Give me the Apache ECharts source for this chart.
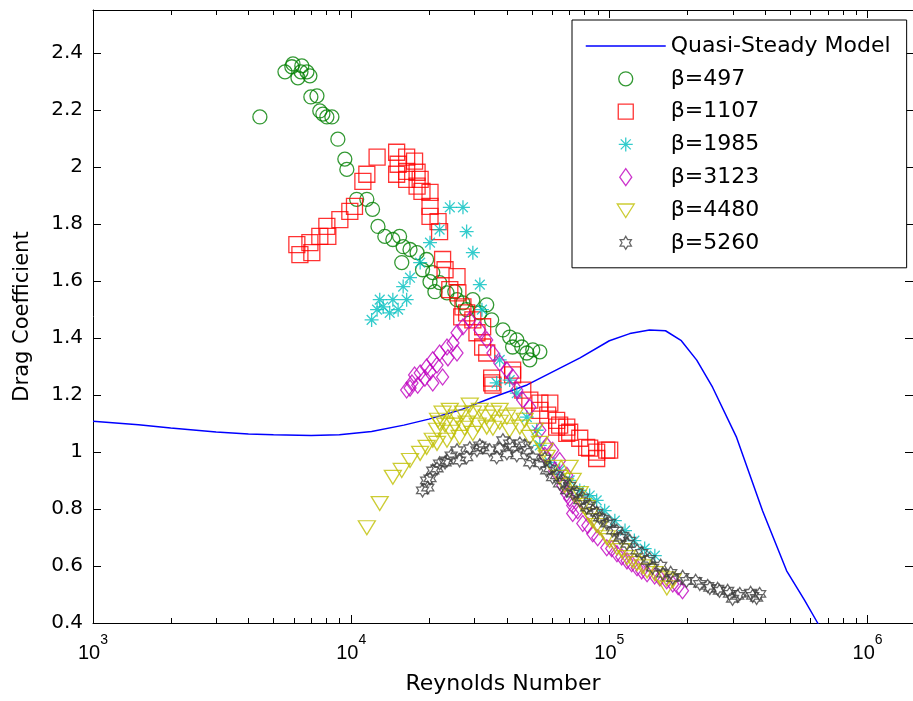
<!DOCTYPE html>
<html><head><meta charset="utf-8">
<script src="https://cdn.jsdelivr.net/npm/echarts@6/dist/echarts.min.js"></script>
<style>html,body{margin:0;padding:0;background:#fff}#c{width:913px;height:701px}</style>
</head><body><div id="c"></div>
<script>
// ---------- data ----------
const modelRe = [1000,1500,2000,3000,4000,5000,7000,9000,12000,16000,20000,27000,35000,48000,60000,77000,100000,120000,143000,165000,190000,218000,251000,311000,392000,486000,570000,641000,700000];
const modelCd = [1.108,1.095,1.084,1.070,1.063,1.060,1.058,1.060,1.072,1.094,1.115,1.150,1.190,1.235,1.280,1.330,1.390,1.415,1.428,1.425,1.390,1.322,1.227,1.051,0.794,0.583,0.480,0.400,0.340];

const beta497 = [[4430,2.175],[5540,2.333],[5890,2.351],[5950,2.361],[6440,2.354],[6740,2.333],[6220,2.312],[6920,2.319],[6390,2.333],[6980,2.245],[7370,2.249],[7560,2.196],[7770,2.185],[8050,2.175],[8420,2.175],[8880,2.097],[9450,2.027],[9620,1.991],[10500,1.886],[11500,1.886],[12100,1.851],[12700,1.791],[13500,1.756],[14500,1.745],[15400,1.756],[15900,1.720],[16900,1.710],[15700,1.664],[18000,1.699],[19600,1.675],[18900,1.639],[20700,1.629],[20200,1.597],[22000,1.594],[21100,1.562],[23500,1.558],[25200,1.562],[25700,1.534],[27100,1.523],[28000,1.499],[29600,1.534],[31500,1.488],[33500,1.516],[35000,1.463],[38700,1.428],[41100,1.403],[43800,1.393],[45800,1.368],[47900,1.347],[50500,1.358],[53800,1.351],[49200,1.323],[42200,1.368]];

const beta1107 = [[6160,1.727],[6330,1.692],[6920,1.734],[7040,1.699],[7560,1.756],[8050,1.791],[8120,1.756],[9040,1.815],[9880,1.844],[10300,1.861],[11100,1.949],[11500,1.974],[12600,2.034],[15000,2.051],[15200,2.009],[15000,1.974],[16400,2.034],[16400,1.984],[16400,1.956],[17600,2.020],[18000,1.981],[18000,1.932],[18500,1.956],[18800,1.914],[20200,1.910],[20200,1.861],[20200,1.826],[21700,1.808],[22000,1.773],[22600,1.675],[23100,1.639],[25700,1.615],[24100,1.569],[25900,1.558],[27100,1.509],[26800,1.474],[28000,1.488],[29600,1.463],[32300,1.439],[30700,1.418],[32300,1.368],[33500,1.347],[35000,1.259],[35000,1.242],[35400,1.234],[42200,1.287],[42200,1.270],[46200,1.217],[49200,1.182],[53800,1.171],[58800,1.171],[53800,1.146],[57700,1.129],[62500,1.111],[62500,1.087],[64200,1.094],[68400,1.065],[68400,1.087],[70200,1.069],[76800,1.048],[81700,1.016],[83900,1.013],[89300,0.999],[97700,1.006],[100300,1.006],[89300,0.977]];

const beta1985 = [[12000,1.463],[12600,1.499],[12900,1.534],[13300,1.509],[14100,1.488],[14500,1.534],[15200,1.499],[15900,1.580],[16400,1.534],[16900,1.611],[18500,1.664],[20200,1.734],[22000,1.780],[24100,1.858],[27100,1.858],[28000,1.773],[29600,1.699],[31500,1.587],[32100,1.499],[37600,1.323],[36600,1.242],[41100,1.252],[43800,1.206],[47900,1.122],[52300,1.076],[53800,1.023],[58800,0.963],[64200,0.935],[70200,0.900],[76800,0.865],[83900,0.847],[89300,0.830],[95900,0.794],[105000,0.759],[115000,0.724],[125000,0.689],[137000,0.661],[150000,0.636]];

const beta3123 = [[16400,1.217],[17200,1.242],[18500,1.277],[19600,1.298],[20700,1.323],[22000,1.347],[23500,1.368],[24800,1.382],[25700,1.347],[22600,1.263],[20700,1.242],[18100,1.234],[25700,1.418],[27100,1.439],[28800,1.463],[31500,1.428],[33500,1.393],[35400,1.347],[37600,1.312],[40100,1.287],[42200,1.263],[43800,1.217],[46200,1.182],[49200,1.157],[53800,1.076],[57200,1.023],[60300,1.006],[64200,0.970],[68400,0.918],[68400,0.854],[72100,0.812],[72100,0.784],[78900,0.749],[86200,0.713],[97700,0.664],[107000,0.643],[117000,0.618],[128000,0.594],[140000,0.573],[157000,0.558],[176000,0.537],[192000,0.513],
  [56200,0.988],[61400,0.935],[66000,0.882],[70200,0.837],[75400,0.794],[82500,0.742],[90100,0.699],[102100,0.661],[111600,0.632],[122000,0.608],[133400,0.583],[149800,0.565],[166700,0.548],[184700,0.527],[16900,1.224],[19300,1.259],[21500,1.305],[23700,1.330],[17600,1.270],[20200,1.280]];

const beta4480 = [[11500,0.734],[12900,0.819],[14500,0.911],[15700,0.935],[16900,0.970],[18500,0.995],[19600,1.016],[20700,1.041],[21500,1.076],[22000,1.101],[22600,1.136],[24100,1.146],[25700,1.122],[27100,1.136],[28000,1.101],[29600,1.136],[31500,1.146],[33500,1.122],[35400,1.136],[37600,1.146],[40100,1.122],[33500,1.087],[29600,1.065],[26300,1.051],[23500,1.041],[21500,1.030],[45000,1.087],[49200,1.051],[53800,1.030],[57200,0.981],[60300,0.946],[64200,0.911],[70200,0.946],[72100,0.900],[76800,0.854],[81700,0.805],[86200,0.759],[91700,0.734],[97700,0.699],[107000,0.664],[117000,0.629],[128000,0.608],[140000,0.583],[157000,0.558],[176000,0.548],[167000,0.523],[25200,1.094],[41100,1.076],
  [23100,1.094],[24400,1.069],[27500,1.083],[30900,1.094],[35400,1.083],[37600,1.104],[43000,1.129],[47000,1.111],[51400,1.076],[56200,1.006],[21700,1.111],[28800,1.164],[67200,0.882],[73400,0.847],[78900,0.812],[83900,0.777],[89300,0.742],[100300,0.689],[111600,0.654],[123100,0.618],[134600,0.597],[149800,0.573],[166700,0.555]];

const beta5260 = [[18900,0.865],[19600,0.900],[20700,0.935],[22000,0.960],[23500,0.970],[25700,1.006],[26300,0.970],[28000,0.981],[30700,1.006],[32300,1.016],[36600,0.981],[38700,1.041],[40100,0.995],[42200,1.016],[45000,1.030],[47900,1.006],[50500,0.981],[53800,0.960],[57200,0.935],[60300,0.911],[64200,0.889],[68400,0.865],[72100,0.854],[76800,0.830],[81700,0.805],[86200,0.794],[91700,0.770],[97700,0.749],[103000,0.724],[110000,0.699],[117000,0.678],[128000,0.654],[140000,0.618],[147000,0.594],[161000,0.573],[176000,0.558],[199000,0.548],[224000,0.537],[245000,0.523],[267000,0.513],[292000,0.502],[320000,0.502],[359000,0.495],[382000,0.502],[300000,0.485],[19800,0.875],
  [20200,0.907],[21500,0.942],[23100,0.963],[24400,0.988],[28800,1.013],[31500,1.023],[34400,1.006],[37600,1.013],[41100,1.030],[43800,0.988],[47000,1.023],[49200,0.963],[56200,0.977],[58800,0.942],[62500,0.918],[66000,0.900],[70200,0.882],[74800,0.858],[78900,0.840],[83900,0.812],[89300,0.787],[94200,0.766],[100300,0.752],[106800,0.724],[112600,0.706],[119900,0.689],[133400,0.646],[143200,0.625],[158000,0.601],[172800,0.576],[192300,0.562],[215900,0.548],[240300,0.530],[262700,0.520],[287200,0.513],[314000,0.495],[352500,0.506],[371800,0.488]];

const seriesNames = ['Quasi-Steady Model','β=497','β=1107','β=1985','β=3123','β=4480','β=5260'];
const minorTickValues = [2e3,3e3,4e3,5e3,6e3,7e3,8e3,9e3,2e4,3e4,4e4,5e4,6e4,7e4,8e4,9e4,2e5,3e5,4e5,5e5,6e5,7e5,8e5,9e5];
const X_MIN = 1000, X_MAX = 1.5e6, Y_MIN = 0.4, Y_MAX = 2.55, Y_STEP = 0.2;

// ---------- styling ----------
const FONT = 'DejaVu Sans';
function hexagram(r){
  const pts=[];
  for(let k=0;k<12;k++){
    const a=(-90+30*k)*Math.PI/180;
    const rr=(k%2===0)?r:r*0.5774;
    pts.push((rr*Math.cos(a)).toFixed(3)+','+(rr*Math.sin(a)).toFixed(3));
  }
  return 'M'+pts.join(' L')+' Z';
}
const BOX = 'M-40,-9 M40,9 '; // invisible bounds so legend icons keep their size
const symAsterisk = 'path://M0,-1 L0,1 M-1,0 L1,0 M-0.7,-0.7 L0.7,0.7 M-0.7,0.7 L0.7,-0.7';
const symTriDown = 'path://M-1,-0.8 L1,-0.8 L0,0.9 Z';
const symHex = 'path://' + hexagram(1);
const legendIcons = [
  'path://' + BOX + 'M-40,0 L40,0',
  'path://' + BOX + 'M7,0 A7,7 0 1,1 -7,0 A7,7 0 1,1 7,0 Z',
  'path://' + BOX + 'M-7.5,-7.5 L7.5,-7.5 L7.5,7.5 L-7.5,7.5 Z',
  'path://' + BOX + 'M0,-7 L0,7 M-7,0 L7,0 M-5,-5 L5,5 M-5,5 L5,-5',
  'path://' + BOX + 'M0,-8.5 L6,0 L0,8.5 L-6,0 Z',
  'path://' + BOX + 'M-8.5,-6 L8.5,-6 L0,7.5 Z',
  'path://' + BOX + hexagram(6.5)
];

function scatter(name, data, color, symbol, size){
  return {
    name, type:'scatter', data, symbol, symbolSize:size,
    itemStyle:{color:'rgba(0,0,0,0)', borderColor:color, borderWidth:1.3},
    emphasis:{disabled:true}, silent:true, z:3
  };
}

const chart = echarts.init(document.getElementById('c'), null, {renderer:'canvas'});
const axisLineStyle = {lineStyle:{color:'#000', width:1}};
const option = {
  animation:false,
  backgroundColor:'#fff',
  textStyle:{fontFamily:FONT},
  grid:{left:93, right:-4, top:10, bottom:78, containLabel:false},
  legend:{
    data:seriesNames.map((n,i)=> i===0
      ? {name:n, icon:legendIcons[i], itemStyle:{color:'rgba(0,0,0,0)', borderColor:'#0000ff', borderWidth:1.5}}
      : {name:n, icon:legendIcons[i]}),
    orient:'vertical', left:572, top:20,
    itemWidth:80, itemHeight:18, itemGap:10.8,
    padding:[15,16,14,13],
    backgroundColor:'#fff', borderColor:'#000', borderWidth:1, borderRadius:0,
    textStyle:{fontFamily:FONT, fontSize:22, color:'#000', lineHeight:22},
    itemStyle:{borderWidth:1.3},
    selectedMode:false
  },
  xAxis:[{
    type:'log', logBase:10, min:X_MIN, max:X_MAX, position:'bottom',
    name:'Reynolds Number', nameLocation:'middle', nameGap:50,
    nameTextStyle:{fontFamily:FONT, fontSize:22, color:'#000'},
    axisLine:axisLineStyle,
    axisTick:{inside:true, length:8, lineStyle:{color:'#000'}},
    axisLabel:{
      margin:10, showMaxLabel:false, color:'#000',
      formatter:function(v){ return '{b|10}{s|'+Math.round(Math.log10(v))+'}'; },
      rich:{
        b:{fontFamily:'Liberation Sans', fontSize:20, lineHeight:40, color:'#000'},
        s:{fontFamily:'Liberation Sans', fontSize:14, lineHeight:10, verticalAlign:'top', color:'#000'}
      }
    },
    splitLine:{show:false}
  },{
    type:'log', logBase:10, min:X_MIN, max:X_MAX, position:'top',
    axisLine:axisLineStyle,
    axisTick:{inside:true, length:8, lineStyle:{color:'#000'}},
    axisLabel:{show:false}, splitLine:{show:false}
  }],
  yAxis:[{
    type:'value', min:Y_MIN, max:Y_MAX, interval:Y_STEP, position:'left',
    name:'Drag Coefficient', nameLocation:'middle', nameGap:60,
    nameTextStyle:{fontFamily:FONT, fontSize:21, color:'#000'},
    axisLine:{show:true, lineStyle:{color:'#000', width:1}},
    axisTick:{show:true, inside:true, length:8, lineStyle:{color:'#000'}},
    axisLabel:{margin:10, showMaxLabel:false, color:'#000', fontFamily:FONT, fontSize:20},
    splitLine:{show:false}
  },{
    type:'value', min:Y_MIN, max:Y_MAX, interval:Y_STEP, position:'right',
    axisLine:{show:true, lineStyle:{color:'#000', width:1}},
    axisTick:{show:true, inside:true, length:8, lineStyle:{color:'#000'}},
    axisLabel:{show:false}, splitLine:{show:false}
  }],
  series:[
    {name:seriesNames[0], type:'line', data:modelRe.map((r,i)=>[r,modelCd[i]]),
     symbol:'none', lineStyle:{color:'#0000ff', width:1.5}, itemStyle:{color:'#0000ff'},
     clip:true, silent:true, z:2},
    scatter(seriesNames[1], beta497, '#008000', 'circle', 14),
    scatter(seriesNames[2], beta1107, '#ff0000', 'rect', 16),
    scatter(seriesNames[3], beta1985, '#00bfbf', symAsterisk, 14),
    scatter(seriesNames[4], beta3123, '#bf00bf', 'diamond', [12,16]),
    scatter(seriesNames[5], beta4480, '#bfbf00', symTriDown, [17,14]),
    scatter(seriesNames[6], beta5260, '#404040', symHex, [12,13]),
    {
      type:'custom', silent:true, z:5,
      data:minorTickValues.map(v=>[v, Y_MIN]),
      renderItem:function(params, api){
        const x = Math.round(api.coord([api.value(0), api.value(1)])[0]) + 0.5;
        const top = params.coordSys.y, bottom = params.coordSys.y + params.coordSys.height;
        return {type:'group', children:[
          {type:'line', shape:{x1:x, y1:bottom, x2:x, y2:bottom-5}, style:{stroke:'#000', lineWidth:1}},
          {type:'line', shape:{x1:x, y1:top, x2:x, y2:top+5}, style:{stroke:'#000', lineWidth:1}}
        ]};
      }
    }
  ]
};
chart.setOption(option);
</script></body></html>
